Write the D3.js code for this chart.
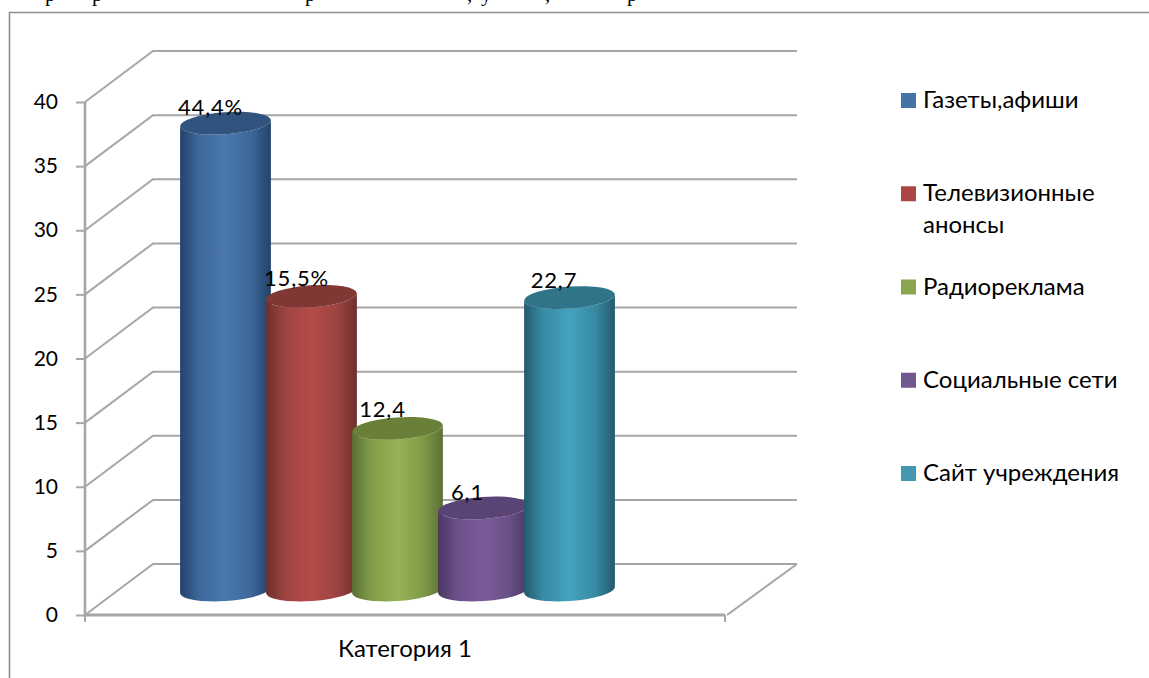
<!DOCTYPE html>
<html>
<head>
<meta charset="utf-8">
<script src="https://cdn.jsdelivr.net/npm/d3@7"></script>
<style>
  html, body { margin: 0; padding: 0; background: #fff; overflow: hidden; }
  text { font-family: Lato, "Open Sans", sans-serif; fill: #000; }
</style>
</head>
<body>
<div class="chart"></div>
<script>
// Chart data
const categories = ["Категория 1"];
const seriesNames = ["Газеты,афиши", "Телевизионные анонсы", "Радиореклама", "Социальные сети", "Сайт учреждения"];
const seriesValues = [36.4, 22.9, 12.6, 6.4, 22.8];
const valueLabels = ["44,4%", "15,5%", "12,4", "6,1", "22,7"];
const yTicks = [0, 5, 10, 15, 20, 25, 30, 35, 40];

// [edge, mid, centre, cap, legend] for each series
const seriesColors = [
    ["#22426a", "#3d6799", "#4a78ae", "#31547f", "#4473a8"],
    ["#6e2f2d", "#9c4341", "#b44c49", "#813734", "#aa4644"],
    ["#5b7034", "#7f9b49", "#95b355", "#6a8038", "#89a54e"],
    ["#4a3763", "#694f87", "#7b5c9b", "#5a4475", "#71588f"],
    ["#235a6e", "#388aa3", "#45a2be", "#2f7488", "#4198af"]
];

const width = 1149;
const height = 678;
const wallX = 68, wallY = 51;   // offset of back wall
const wallRight = 797;
const barDepthY = 25;           // bars stand half way into the floor
const barRx = 45.5, barRy = 11;
const tilt = -4;

const svg = d3.select(".chart")
    .append("svg")
    .attr("width", width)
    .attr("height", height)
    .style("display", "block");

const defs = svg.append("defs");

// Scales
const yScale = d3.scaleLinear().domain([0, 40]).range([615, 102]);
const xCat = d3.scaleBand().domain(categories).range([85, 725]);
const xBar = d3.scaleBand().domain(seriesNames).range([182.5, 612.5]);

// Bottoms of the line of page text cut off above the chart
const cutText = [["р", 45], ["р", 92], ["р", 305], [",", 467], ["у", 481], [",", 545], ["р", 627]];
svg.selectAll(".cut-text")
    .data(cutText)
    .enter()
    .append("text")
    .attr("class", "cut-text")
    .attr("x", d => d[1])
    .attr("y", 1)
    .style("font-family", "'Liberation Serif', serif")
    .style("font-size", "21px")
    .text(d => d[0]);

// Outer frame, open on the right and at the bottom
svg.append("path")
    .attr("d", `M9.5,${height} V12.5 H${width}`)
    .attr("fill", "none")
    .attr("stroke", "#8f8f8f")
    .attr("stroke-width", 1.6);

// Walls: gridlines run along the floor side and back wall
const gridColor = "#a6a6a6";
svg.selectAll(".grid")
    .data(yTicks)
    .enter()
    .append("path")
    .attr("class", "grid")
    .attr("fill", "none")
    .attr("stroke", gridColor)
    .attr("stroke-width", 2)
    .attr("d", d => `M85,${yScale(d)} L${85 + wallX},${yScale(d) - wallY} H${wallRight}`);

// Right edge of the floor
svg.append("line")
    .attr("x1", 727).attr("y1", yScale(0))
    .attr("x2", wallRight).attr("y2", yScale(0) - wallY)
    .attr("stroke", gridColor)
    .attr("stroke-width", 2);

// Cylinders
seriesNames.forEach((name, i) => {
    const c = seriesColors[i];
    const grad = defs.append("linearGradient").attr("id", "bar" + i);
    [[0, c[0]], [0.2, c[1]], [0.5, c[2]], [0.78, c[1]], [1, c[0]]].forEach(s => {
        grad.append("stop").attr("offset", s[0]).attr("stop-color", s[1]);
    });
});

const rad = tilt * Math.PI / 180;
const ex = barRx * Math.cos(rad), ey = barRx * Math.sin(rad);
const barCx = d => xBar(d) + xBar.bandwidth() / 2;
const barTop = v => yScale(v) - barDepthY;
const barBase = yScale(0) - barDepthY;

const bars = svg.selectAll(".bar")
    .data(seriesNames)
    .enter()
    .append("g")
    .attr("class", "bar");

bars.append("path")
    .attr("fill", (d, i) => `url(#bar${i})`)
    .attr("d", (d, i) => {
        const cx = barCx(d), t = barTop(seriesValues[i]);
        return `M${cx - ex},${t - ey} L${cx - ex},${barBase - ey} ` +
            `A${barRx},${barRy} ${tilt} 0 0 ${cx + ex},${barBase + ey} ` +
            `L${cx + ex},${t + ey} ` +
            `A${barRx},${barRy} ${tilt} 0 1 ${cx - ex},${t - ey} Z`;
    });

bars.append("ellipse")
    .attr("rx", barRx)
    .attr("ry", barRy)
    .attr("fill", (d, i) => seriesColors[i][3])
    .attr("transform", (d, i) => `translate(${barCx(d)},${barTop(seriesValues[i])}) rotate(${tilt})`);

// Value labels, Lato digits are narrower here so they get some spacing
const labelDx = [-15, -15, -15, -16, -15.5];
const labelDy = [-8, -10, -11, -8, -10];
svg.selectAll(".value-label")
    .data(valueLabels)
    .enter()
    .append("text")
    .attr("class", "value-label")
    .attr("x", (d, i) => barCx(seriesNames[i]) + labelDx[i])
    .attr("y", (d, i) => barTop(seriesValues[i]) + labelDy[i])
    .attr("text-anchor", "middle")
    .style("font-size", "22px")
    .style("letter-spacing", "0.8px")
    .text(d => d);

// Y axis
const yAxis = svg.append("g")
    .attr("transform", "translate(85,0)")
    .call(d3.axisLeft(yScale).tickValues(yTicks).tickSize(9).tickPadding(18));
yAxis.selectAll("text").style("font-size", "21px");
yAxis.selectAll("line").attr("stroke", gridColor).attr("stroke-width", 2);
yAxis.select(".domain").attr("stroke", gridColor).attr("stroke-width", 2.6).attr("d", `M0,${yScale(40)} V${yScale(0)}`);

// X axis, ticks on the edges of the category
const xAxis = svg.append("g");
xAxis.append("line")
    .attr("x1", 85).attr("x2", 725)
    .attr("y1", yScale(0)).attr("y2", yScale(0))
    .attr("stroke", gridColor)
    .attr("stroke-width", 3);
xAxis.selectAll(".x-tick")
    .data(xCat.range())
    .enter()
    .append("line")
    .attr("class", "x-tick")
    .attr("x1", d => d).attr("x2", d => d)
    .attr("y1", yScale(0)).attr("y2", yScale(0) + 7)
    .attr("stroke", gridColor)
    .attr("stroke-width", 2);
xAxis.selectAll(".x-label")
    .data(categories)
    .enter()
    .append("text")
    .attr("class", "x-label")
    .attr("x", d => xCat(d) + xCat.bandwidth() / 2)
    .attr("y", 657)
    .attr("text-anchor", "middle")
    .style("font-size", "24px")
    .text(d => d);

// Legend
const legendY = d3.scalePoint().domain(seriesNames).range([93, 466]);
const legend = svg.selectAll(".legend")
    .data(seriesNames)
    .enter()
    .append("g")
    .attr("class", "legend")
    .attr("transform", d => `translate(901,${legendY(d)})`);

legend.append("rect")
    .attr("width", 15)
    .attr("height", 15)
    .attr("fill", (d, i) => seriesColors[i][4]);

legend.append("text")
    .attr("x", 22)
    .attr("y", 15)
    .style("font-size", "24px")
    .each(function(d) {
        // long names wrap after the first word
        const words = d.split(" ");
        const wrap = d.length > 16;
        const el = d3.select(this);
        if (wrap) {
            words.forEach((w, i) => {
                el.append("tspan").attr("x", 22).attr("dy", i ? 32 : 0).text(w);
            });
        } else {
            el.text(d);
        }
    });
</script>
</body>
</html>
